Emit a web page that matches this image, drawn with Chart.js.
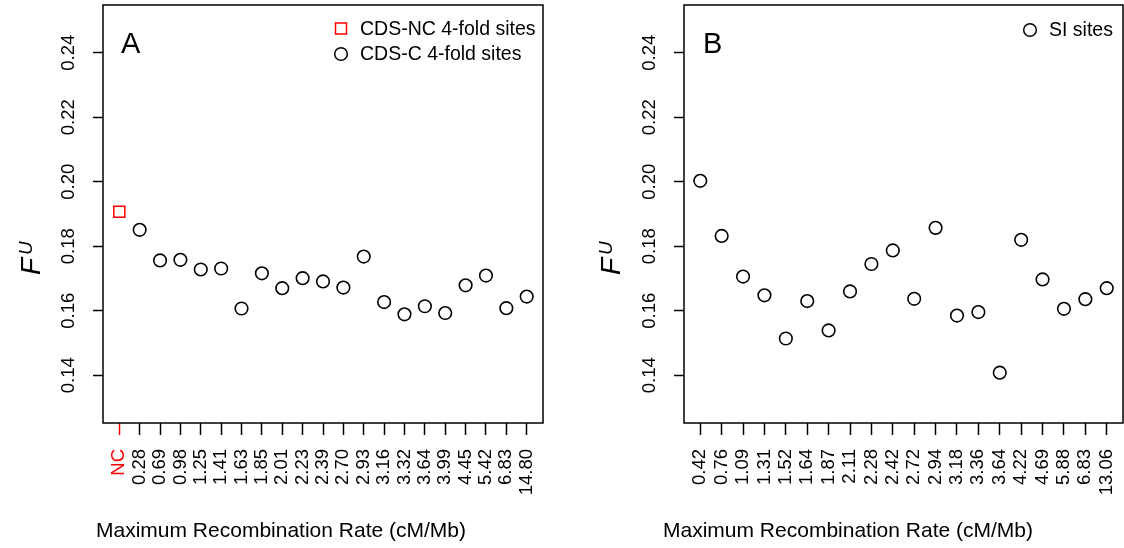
<!DOCTYPE html>
<html>
<head>
<meta charset="utf-8">
<script src="https://cdn.jsdelivr.net/npm/chart.js@4.4.1/dist/chart.umd.min.js"></script>
<style>
  html, body { margin: 0; padding: 0; background: #fff; }
  #wrap { position: relative; width: 1124px; height: 548px; }
  .panel { position: absolute; top: 0; width: 562px; height: 548px; }
</style>
</head>
<body>
<div id="wrap">
  <div class="panel" style="left:0"><canvas id="chartA" width="562" height="548"></canvas></div>
  <div class="panel" style="left:562px"><canvas id="chartB" width="562" height="548"></canvas></div>
</div>
<script>
// categories (maximum recombination rate bins)
const catsA = ['NC', '0.28', '0.69', '0.98', '1.25', '1.41', '1.63', '1.85', '2.01', '2.23', '2.39',
    '2.70', '2.93', '3.16', '3.32', '3.64', '3.99', '4.45', '5.42', '6.83', '14.80'];
const catsB = ['0.42', '0.76', '1.09', '1.31', '1.52', '1.64', '1.87', '2.11', '2.28', '2.42',
    '2.72', '2.94', '3.18', '3.36', '3.64', '4.22', '4.69', '5.88', '6.83', '13.06'];

// F^U values
const ncVals = [0.1907];
const cdsCVals = [0.1851, 0.1756, 0.1758, 0.1728, 0.1731, 0.1607, 0.1716, 0.1670, 0.1701, 0.1691,
    0.1672, 0.1768, 0.1627, 0.1589, 0.1614, 0.1593, 0.1679, 0.1709, 0.1608, 0.1644];
const siVals = [0.2003, 0.1832, 0.1706, 0.1648, 0.1514, 0.1630, 0.1539, 0.1660, 0.1745, 0.1787,
    0.1637, 0.1857, 0.1585, 0.1596, 0.1408, 0.1820, 0.1697, 0.1606, 0.1636, 0.1670];

const yTicks = [0.14, 0.16, 0.18, 0.20, 0.22, 0.24];

const fam = '"Liberation Sans", Arial, sans-serif';
const xTitle = 'Maximum Recombination Rate (cM/Mb)';

const boxPlugin = {
    id: 'box',
    afterDraw(chart) {
        const a = chart.chartArea, ctx = chart.ctx;
        ctx.save();
        ctx.strokeStyle = '#000';
        ctx.lineWidth = 1.5;
        ctx.strokeRect(a.left, a.top, a.right - a.left, a.bottom - a.top);
        ctx.restore();
    }
};

function textPlugin(o) {
    return {
        id: 'panelText',
        afterDraw(chart) {
            const ctx = chart.ctx;
            ctx.save();
            ctx.fillStyle = '#000';
            ctx.textBaseline = 'alphabetic';
            ctx.textAlign = 'left';
            ctx.font = '29px ' + fam;
            ctx.fillText(o.letter, o.letterX, 53);

            ctx.textAlign = 'center';
            ctx.font = '21px ' + fam;
            ctx.fillText(xTitle, o.titleX, 537);

            // legend
            ctx.font = '19.5px ' + fam;
            ctx.textAlign = 'left';
            ctx.textBaseline = 'middle';
            o.legend.forEach(item => {
                ctx.lineWidth = 1.5;
                ctx.strokeStyle = item.color;
                ctx.beginPath();
                if (item.style === 'rect') {
                    ctx.rect(o.legX - 5.5, item.y - 5.5, 11, 11);
                } else {
                    ctx.arc(o.legX, item.y, 6.3, 0, Math.PI * 2);
                }
                ctx.stroke();
                ctx.fillStyle = '#000';
                ctx.fillText(item.text, o.legX + 19, item.y + 1);
            });

            // y title F^U
            ctx.translate(o.yTitleX, 275);
            ctx.rotate(-Math.PI / 2);
            ctx.textBaseline = 'alphabetic';
            ctx.font = 'italic 28px ' + fam;
            ctx.fillText('F', 0, 0);
            const w = ctx.measureText('F').width;
            ctx.font = 'italic 19px ' + fam;
            ctx.fillText('U', w + 3, -8);
            ctx.restore();
        }
    };
}

function makeScales(cats, xMin, xMax, yWidth) {
    return {
        x: {
            type: 'linear', min: xMin, max: xMax, bounds: 'data',
            afterBuildTicks: s => { s.ticks = cats.map((c, i) => ({ value: i })); },
            afterFit: s => { s.height = 125; s.paddingLeft = 0; s.paddingRight = 0; },
            grid: {
                drawOnChartArea: false, drawTicks: true, tickLength: 12, tickWidth: 1.5,
                tickColor: c => (cats[c.index] === 'NC' ? '#ff0000' : '#000')
            },
            border: { display: false },
            ticks: {
                autoSkip: false, minRotation: 90, maxRotation: 90, padding: 14,
                color: c => (cats[c.index] === 'NC' ? '#ff0000' : '#000'),
                font: { size: 18.5, family: fam },
                callback: v => cats[v]
            }
        },
        y: {
            type: 'linear', min: 0.1252, max: 0.2548, bounds: 'data',
            afterBuildTicks: s => { s.ticks = yTicks.map(v => ({ value: v })); },
            afterFit: s => { s.width = yWidth; s.paddingTop = 0; s.paddingBottom = 0; },
            grid: { drawOnChartArea: false, drawTicks: true, tickLength: 10, tickWidth: 1.5, tickColor: '#000' },
            border: { display: false },
            ticks: {
                minRotation: 90, maxRotation: 90, crossAlign: 'center', padding: 6,
                color: '#000', font: { size: 18.5, family: fam },
                callback: v => v.toFixed(2)
            }
        }
    };
}

const baseOpts = {
    responsive: false,
    animation: false,
    plugins: { legend: { display: false }, tooltip: { enabled: false } }
};

new Chart(document.getElementById('chartA'), {
    type: 'scatter',
    data: {
        datasets: [
            {
                label: 'CDS-NC 4-fold sites',
                data: ncVals.map(v => ({ x: 0, y: v })),
                pointStyle: 'rect', pointRadius: 7.8, borderWidth: 1.5,
                borderColor: '#ff0000', backgroundColor: 'rgba(0,0,0,0)'
            },
            {
                label: 'CDS-C 4-fold sites',
                data: cdsCVals.map((v, i) => ({ x: i + 1, y: v })),
                pointStyle: 'circle', pointRadius: 6.3, borderWidth: 1.6,
                borderColor: '#000', backgroundColor: 'rgba(0,0,0,0)'
            }
        ]
    },
    options: Object.assign({}, baseOpts, {
        layout: { autoPadding: false, padding: { top: 5, right: 19, left: 0, bottom: 0 } },
        scales: makeScales(catsA, -0.8, 20.8, 103)
    }),
    plugins: [boxPlugin, textPlugin({
        letter: 'A', letterX: 121, titleX: 281, yTitleX: 40, legX: 341,
        legend: [
            { text: 'CDS-NC 4-fold sites', style: 'rect', color: '#ff0000', y: 28.5 },
            { text: 'CDS-C 4-fold sites', style: 'circle', color: '#000', y: 54 }
        ]
    })]
});

new Chart(document.getElementById('chartB'), {
    type: 'scatter',
    data: {
        datasets: [
            {
                label: 'SI sites',
                data: siVals.map((v, i) => ({ x: i, y: v })),
                pointStyle: 'circle', pointRadius: 6.3, borderWidth: 1.6,
                borderColor: '#000', backgroundColor: 'rgba(0,0,0,0)'
            }
        ]
    },
    options: Object.assign({}, baseOpts, {
        layout: { autoPadding: false, padding: { top: 5, right: 1, left: 0, bottom: 0 } },
        scales: makeScales(catsB, -0.76, 19.76, 122)
    }),
    plugins: [boxPlugin, textPlugin({
        letter: 'B', letterX: 141, titleX: 286, yTitleX: 58, legX: 468,
        legend: [
            { text: 'SI sites', style: 'circle', color: '#000', y: 30 }
        ]
    })]
});
</script>
</body>
</html>
